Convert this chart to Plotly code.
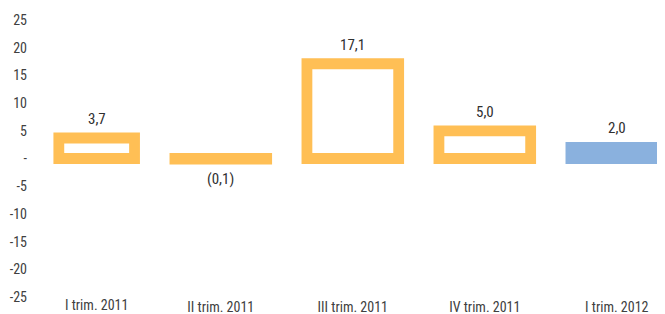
import plotly.graph_objects as go

categories = ["I trim. 2011", "II trim. 2011", "III trim. 2011", "IV trim. 2011", "I trim. 2012"]
values = [3.7, -0.1, 17.1, 5.0, 2.0]
y_tickvals = [25, 20, 15, 10, 5, 0, -5, -10, -15, -20, -25]
y_ticktext = ["25", "20", "15", "10", "5", "-", "-5", "-10", "-15", "-20", "-25"]

ORANGE = "#FFBF55"
BLUE = "#8AB1DE"
FONT = "Liberation Sans Narrow, Roboto Condensed, DejaVu Sans Condensed, Arial Narrow, sans-serif"
TXT = "#303030"


def fmt(v):
    s = f"{abs(v):.1f}".replace(".", ",")
    return f"({s})" if v < 0 else s


labels = [fmt(v) for v in values]
fills = ["white"] * 4 + [BLUE]
lines = [ORANGE] * 4 + [BLUE]
widths = [0.5735, 0.695, 0.695, 0.695, 0.695]
offsets = [-0.227, -0.3475, -0.3475, -0.3475, -0.3475]

X_RANGE = [-0.4606, 4.3652]
W, H = 657, 306          # page body adds an 8px offset
ML, MR, MT, MB = 20, 0, 12, 17
px_per_cat = (W - ML - MR) / (X_RANGE[1] - X_RANGE[0])

fig = go.Figure()
fig.add_trace(go.Bar(
    x=categories, y=values,
    width=widths, offset=offsets,
    marker=dict(color=fills, line=dict(color=lines, width=10.8)),
    showlegend=False, hoverinfo="x+y",
))

# value labels, centred over each drawn bar, clear of the thick outline
for cat, v, lab, o, w in zip(categories, values, labels, offsets, widths):
    shift = (o + w / 2) * px_per_cat
    fig.add_annotation(
        x=cat, y=v, xref="x", yref="y",
        yanchor="bottom" if v >= 0 else "top",
        yshift=8 if v >= 0 else -9, xshift=shift,
        text=lab, showarrow=False,
        font=dict(family=FONT, size=15, color=TXT),
    )

# first category label sits over the visible bar centre
fig.add_annotation(
    x=categories[0], y=0, xref="x", yref="paper", yanchor="top",
    text=categories[0], showarrow=False,
    xshift=(offsets[0] + widths[0] / 2) * px_per_cat, yshift=2,
    font=dict(family=FONT, size=14, color="#404040"),
)

fig.update_layout(
    width=W, height=H,
    margin=dict(l=ML, r=MR, t=MT, b=MB),
    paper_bgcolor="white", plot_bgcolor="white",
    font=dict(family=FONT, size=14, color="#404040"),
)
fig.update_xaxes(
    type="category", range=X_RANGE,
    tickvals=categories, ticktext=[""] + categories[1:],
    showgrid=False, zeroline=False, showline=False, ticks="",
    tickfont=dict(family=FONT, size=14, color="#404040"),
)
fig.update_yaxes(
    range=[-25, 25], tickvals=y_tickvals, ticktext=y_ticktext,
    showgrid=False, zeroline=False, showline=False, ticks="",
    tickfont=dict(family=FONT, size=14, color="#404040"),
)

fig.write_html("out.html")
